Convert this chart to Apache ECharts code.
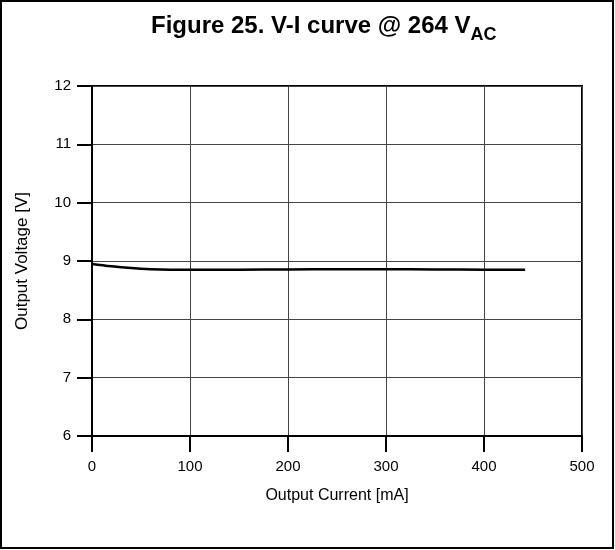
<!DOCTYPE html>
<html>
<head>
<meta charset="utf-8">
<script src="https://cdn.jsdelivr.net/npm/echarts@6/dist/echarts.min.js"></script>
<style>
html,body{margin:0;padding:0;background:#fff;}
#chart{width:615px;height:550px;}
</style>
</head>
<body>
<div id="chart"></div>
<script>
// Data
const currentMA = [0, 20, 40, 60, 80, 100, 150, 200, 250, 300, 350, 400, 442];
const voltageV = [8.95, 8.91, 8.88, 8.86, 8.85, 8.848, 8.852, 8.856, 8.858, 8.858, 8.856, 8.852, 8.848];
const xTicks = [0, 100, 200, 300, 400, 500];
const yTicks = [6, 7, 8, 9, 10, 11, 12];

const FONT = '"Liberation Sans", Arial, sans-serif';
const chart = echarts.init(document.getElementById('chart'));
chart.setOption({
  animation: false,
  backgroundColor: '#fff',
  title: {
    text: '{a|Figure 25. V-I curve @ 264 V}{b|AC}',
    left: 146,
    top: 3,
    textStyle: {
      rich: {
        a: {fontFamily: FONT, fontSize: 24, fontWeight: 'bold', color: '#000', lineHeight: 30, verticalAlign: 'bottom'},
        b: {fontFamily: FONT, fontSize: 18, fontWeight: 'bold', color: '#000', lineHeight: 30, verticalAlign: 'bottom', padding: [0, 0, -6, 0]}
      }
    }
  },
  graphic: [{
    type: 'rect',
    shape: {x: 1, y: 1, width: 612, height: 547},
    style: {fill: 'none', stroke: '#000', lineWidth: 2},
    silent: true
  }],
  grid: {left: 92, right: 33, top: 86, bottom: 114, show: true, borderColor: '#000', borderWidth: 2, backgroundColor: 'transparent'},
  xAxis: {
    type: 'value',
    min: xTicks[0], max: xTicks[xTicks.length - 1], interval: 100,
    name: 'Output Current [mA]',
    nameLocation: 'middle',
    nameGap: 52,
    nameTextStyle: {fontFamily: FONT, fontSize: 16, color: '#000'},
    axisLine: {show: true, lineStyle: {color: '#000', width: 2}},
    axisTick: {show: true, length: 16, lineStyle: {color: '#000', width: 2}},
    axisLabel: {fontFamily: FONT, fontSize: 15, color: '#000', margin: 23},
    splitLine: {show: true, lineStyle: {color: '#444', width: 1}}
  },
  yAxis: {
    type: 'value',
    min: yTicks[0], max: yTicks[yTicks.length - 1], interval: 1,
    name: 'Output Voltage [V]',
    nameLocation: 'middle',
    nameGap: 61,
    nameTextStyle: {fontFamily: FONT, fontSize: 17, color: '#000'},
    axisLine: {show: true, lineStyle: {color: '#000', width: 2}},
    axisTick: {show: true, length: 15, lineStyle: {color: '#000', width: 2}},
    axisLabel: {fontFamily: FONT, fontSize: 15, color: '#000', margin: 21},
    splitLine: {show: true, lineStyle: {color: '#444', width: 1}}
  },
  series: [{
    type: 'line',
    data: currentMA.map((x, i) => [x, voltageV[i]]),
    smooth: 0.4,
    showSymbol: false,
    lineStyle: {color: '#000', width: 2.5}
  }]
});
</script>
</body>
</html>
